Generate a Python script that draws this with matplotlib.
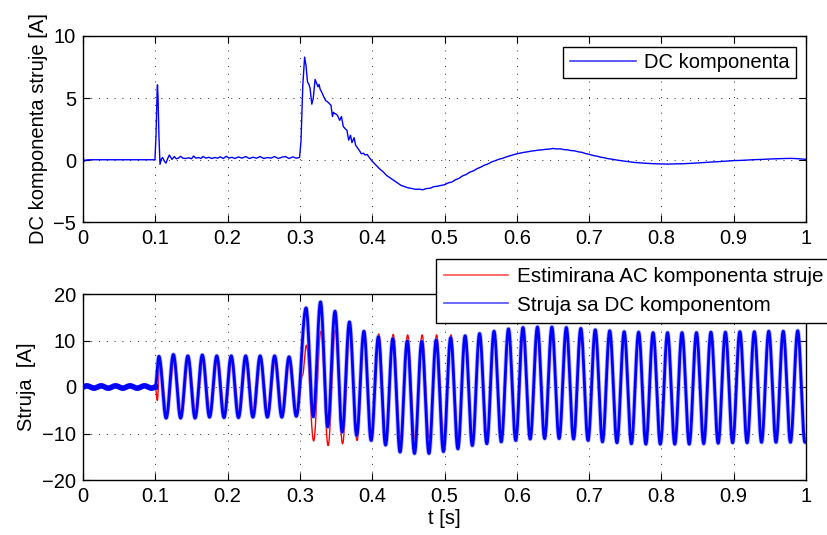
import numpy as np
import matplotlib
matplotlib.use("Agg")
import matplotlib.pyplot as plt
from matplotlib.lines import Line2D
from matplotlib.ticker import FuncFormatter

plt.rcParams['font.family'] = ['Liberation Sans', 'DejaVu Sans']
FS = 14.5
plt.rcParams['font.size'] = FS

# ---------------- DATA ----------------
# Top panel: estimated DC component [A] at times [s]
dc_t = [0.000, 0.002, 0.004, 0.010, 0.050, 0.0995, 0.1010, 0.1025, 0.1030, 0.1038,
        0.1050, 0.1065, 0.1085, 0.1102, 0.1125, 0.1148, 0.1170, 0.1194, 0.1215, 0.1231,
        0.1263, 0.129, 0.132, 0.135, 0.138, 0.142, 0.146, 0.150, 0.153, 0.156,
        0.160, 0.163, 0.166, 0.170, 0.174, 0.178, 0.182, 0.186, 0.190, 0.194,
        0.198, 0.202, 0.206, 0.210, 0.215, 0.220, 0.225, 0.230, 0.235, 0.240,
        0.245, 0.250, 0.255, 0.260, 0.265, 0.270, 0.275, 0.280, 0.285, 0.290,
        0.295, 0.2995, 0.3015, 0.3040, 0.3065, 0.3085, 0.3105, 0.3125, 0.3140, 0.3165,
        0.3185, 0.3210, 0.3230, 0.3250, 0.3265, 0.3280, 0.3300, 0.3330, 0.3355, 0.3380,
        0.3400, 0.3430, 0.3450, 0.3465, 0.3480, 0.3500, 0.3520, 0.3550, 0.3575, 0.3600,
        0.3630, 0.3650, 0.3675, 0.3700, 0.3720, 0.3750, 0.3770, 0.3800, 0.3830, 0.3850,
        0.3880, 0.3900, 0.3930, 0.3960, 0.400, 0.405, 0.410, 0.415, 0.420, 0.425,
        0.430, 0.435, 0.440, 0.445, 0.450, 0.455, 0.460, 0.465, 0.470, 0.475,
        0.480, 0.485, 0.490, 0.495, 0.500, 0.505, 0.510, 0.515, 0.520, 0.525,
        0.530, 0.535, 0.540, 0.545, 0.550, 0.555, 0.560, 0.565, 0.570, 0.575,
        0.580, 0.585, 0.590, 0.595, 0.600, 0.605, 0.610, 0.615, 0.620, 0.625,
        0.630, 0.635, 0.640, 0.645, 0.650, 0.655, 0.660, 0.665, 0.670, 0.675,
        0.680, 0.685, 0.690, 0.695, 0.700, 0.705, 0.710, 0.715, 0.720, 0.725,
        0.730, 0.740, 0.750, 0.760, 0.770, 0.780, 0.790, 0.800, 0.810, 0.820,
        0.830, 0.840, 0.850, 0.860, 0.870, 0.880, 0.890, 0.900, 0.910, 0.920,
        0.930, 0.940, 0.950, 0.960, 0.970, 0.980, 0.990, 1.000]
dc_v = [0.25, -0.10, 0.00, 0.02, 0.02, 0.02, 2.00, 5.50, 6.06, 5.00,
        2.00, -0.35, 0.10, 0.20, -0.10, -0.25, 0.10, 0.40, 0.20, 0.05,
        0.28, 0.10, 0.15, 0.30, 0.15, 0.12, 0.18, 0.10, 0.32, 0.15,
        0.20, 0.12, 0.28, 0.15, 0.22, 0.12, 0.20, 0.15, 0.25, 0.12,
        0.30, 0.15, 0.22, 0.12, 0.25, 0.15, 0.28, 0.12, 0.22, 0.15,
        0.28, 0.12, 0.20, 0.15, 0.28, 0.12, 0.22, 0.28, 0.12, 0.25,
        0.15, 0.20, 1.50, 6.00, 8.30, 7.60, 6.30, 6.10, 5.80, 4.50,
        5.00, 6.50, 6.20, 5.90, 6.10, 5.70, 5.50, 5.10, 4.80, 4.70,
        4.60, 4.40, 3.50, 3.85, 3.75, 3.70, 3.60, 3.20, 3.50, 2.70,
        2.50, 2.40, 1.60, 2.00, 1.40, 1.80, 1.20, 0.95, 0.70, 0.50,
        0.55, 0.40, 0.45, 0.20, -0.10, -0.40, -0.70, -0.95, -1.25, -1.45,
        -1.65, -1.85, -2.05, -2.15, -2.25, -2.30, -2.37, -2.35, -2.40, -2.30,
        -2.28, -2.15, -2.12, -2.05, -2.00, -1.85, -1.78, -1.60, -1.48, -1.28,
        -1.17, -0.98, -0.88, -0.70, -0.58, -0.42, -0.32, -0.16, -0.06, 0.06,
        0.13, 0.24, 0.33, 0.42, 0.50, 0.56, 0.62, 0.66, 0.72, 0.75,
        0.80, 0.82, 0.86, 0.88, 0.93, 0.89, 0.90, 0.84, 0.82, 0.76,
        0.74, 0.66, 0.62, 0.52, 0.46, 0.37, 0.32, 0.24, 0.19, 0.12,
        0.08, -0.02, -0.10, -0.18, -0.23, -0.27, -0.30, -0.32, -0.33, -0.31,
        -0.30, -0.27, -0.24, -0.20, -0.16, -0.13, -0.09, -0.05, -0.03, 0.00,
        0.03, 0.05, 0.08, 0.10, 0.12, 0.13, 0.10, 0.05]

# Bottom panel: half-cycle extrema of the currents [A] (50 Hz)
blue_pre_peaks = [0.25, 0.25, 0.25, 0.25, 0.25]
blue_pre_troughs = [-0.25, -0.25, -0.25, -0.25, -0.25]
blue_mid_peaks = [6.6, 7.0, 6.7, 6.9, 6.7, 6.7, 6.7, 6.7, 6.7, 6.5]
blue_mid_troughs = [-6.7, -6.7, -6.7, -6.5, -6.6, -6.6, -6.5, -6.5, -6.5, -6.3]
blue_post_peaks = [17.0, 18.3, 16.3, 14.0, 12.0, 10.8, 10.4, 9.9, 9.8, 10.1,
                   10.6, 11.0, 11.5, 12.0, 12.5, 12.8, 12.9, 12.9, 12.8, 12.6,
                   12.3, 12.1, 11.9, 11.8, 11.7, 11.7, 11.7, 11.7, 11.8, 11.8,
                   11.9, 11.9, 12.0, 12.0, 12.1]
blue_post_troughs = [-6.4, -8.6, -9.7, -10.4, -11.5, -12.5, -14.0, -14.3, -14.3, -13.9,
                     -13.3, -12.6, -12.2, -11.8, -11.5, -11.2, -11.1, -11.1, -11.2, -11.5,
                     -11.8, -12.0, -12.2, -12.3, -12.3, -12.3, -12.3, -12.2, -12.1, -12.0,
                     -12.0, -11.9, -11.9, -11.9, -11.9]

red_start_dip = -2.9
red_mid_peaks = [5.8, 6.0, 6.0, 6.0, 6.0, 6.0, 6.0, 6.0, 6.0, 6.0]
red_mid_troughs = [-6.1, -6.1, -6.1, -6.0, -6.0, -6.0, -6.0, -6.0, -6.0, -6.0]
red_fault_kink = 2.5
red_post_peaks = [9.0, 12.0, 12.2, 11.9, 11.7, 11.4, 11.3, 11.2, 11.2, 11.2,
                  11.2, 11.2, 11.2, 11.2, 11.2, 11.2, 11.2, 11.2, 11.2, 11.2,
                  11.2, 11.2, 11.2, 11.2, 11.2, 11.2, 11.2, 11.2, 11.2, 11.2,
                  11.2, 11.2, 11.2, 11.2, 11.2]
red_post_troughs = [-11.6, -12.6, -12.2, -11.5, -11.1, -11.0, -11.0, -11.0, -11.0, -11.0,
                    -11.0, -11.0, -11.0, -11.0, -11.0, -11.0, -11.0, -11.0, -11.0, -11.0,
                    -11.0, -11.0, -11.0, -11.0, -11.0, -11.0, -11.0, -11.0, -11.0, -11.0,
                    -11.0, -11.0, -11.0, -11.0, -11.0]

x_ticks = [0, 0.1, 0.2, 0.3, 0.4, 0.5, 0.6, 0.7, 0.8, 0.9, 1.0]
top_yticks = [-5, 0, 5, 10]
bot_yticks = [-20, -10, 0, 10, 20]

# ---------------- waveform construction ----------------
PERIOD = 0.02  # 50 Hz


def interleave(t_peak0, peaks, troughs):
    tp = t_peak0 + PERIOD * np.arange(len(peaks))
    tt = tp + PERIOD / 2
    t = np.empty(2 * len(peaks))
    v = np.empty(2 * len(peaks))
    t[0::2], t[1::2] = tp, tt
    v[0::2], v[1::2] = peaks, troughs
    return list(t), list(v)


def half_wave(t, tx, vx):
    tx = np.asarray(tx)
    vx = np.asarray(vx)
    i = np.clip(np.searchsorted(tx, t, side='right') - 1, 0, len(tx) - 2)
    ph = np.clip((t - tx[i]) / (tx[i + 1] - tx[i]), 0, 1)
    return vx[i] + (vx[i + 1] - vx[i]) * (1 - np.cos(np.pi * ph)) / 2


t = np.linspace(0, 1, 20001)

bt, bv = [0.0], [0.0]
a, b = interleave(0.005, blue_pre_peaks, blue_pre_troughs); bt += a; bv += b
bt += [0.1]; bv += [0.0]
a, b = interleave(0.105, blue_mid_peaks, blue_mid_troughs); bt += a; bv += b
a, b = interleave(0.3085, blue_post_peaks, blue_post_troughs); bt += a; bv += b
bt += [1.0]; bv += [bv[-1]]
blue = half_wave(t, bt, bv)

rt, rv = [0.0, 0.1, 0.1028], [0.0, 0.0, red_start_dip]
a, b = interleave(0.1062, red_mid_peaks, red_mid_troughs); rt += a; rv += b
rt += [0.3035]; rv += [red_fault_kink]
a, b = interleave(0.3090, red_post_peaks, red_post_troughs); rt += a; rv += b
rt += [1.0]; rv += [rv[-1]]
red = half_wave(t, rt, rv)

pre = t <= 0.1

# ---------------- figure ----------------
W, H = 827, 535
fig = plt.figure(figsize=(W / 100, H / 100), dpi=100)
ax1 = fig.add_axes([83 / W, 1 - 222 / H, 723 / W, 186 / H])
ax2 = fig.add_axes([83 / W, 1 - 480 / H, 723 / W, 186 / H])

fmt = FuncFormatter(lambda v, p: ('%g' % round(v, 6)).replace('-', '\u2212'))

for ax in (ax1, ax2):
    ax.set_xlim(0, 1)
    ax.set_xticks(x_ticks)
    ax.xaxis.set_major_formatter(fmt)
    ax.yaxis.set_major_formatter(fmt)
    ax.tick_params(direction='in', top=True, right=True, length=5, width=0.8,
                   labelsize=FS, pad=5, colors='black')
    ax.grid(True, color='#303030', linestyle=(0, (1, 7)), linewidth=0.7)
    for s in ax.spines.values():
        s.set_linewidth(1.0)
        s.set_color('black')

# top panel
ax1.plot(dc_t, dc_v, color='#0000ff', lw=1.0)
ax1.set_ylim(-5, 10)
ax1.set_yticks(top_yticks)
ax1.set_ylabel('DC komponenta struje [A]', fontsize=FS, labelpad=4)
leg1 = ax1.legend([Line2D([], [], color='#4040ff', lw=1.2)], ['DC komponenta'],
                  loc='upper right', bbox_to_anchor=(795.7 / W, 1 - 46.7 / H),
                  bbox_transform=fig.transFigure, borderaxespad=0, fontsize=FS,
                  fancybox=False, framealpha=1, edgecolor='black',
                  handlelength=3.3, handletextpad=0.4, borderpad=0.3)
leg1.get_frame().set_linewidth(1.0)

# bottom panel
ax2.plot(t, red, color='#ff0000', lw=1.0, zorder=2)
ax2.plot(t, blue, color='#8080ff', lw=3.2, alpha=0.55, zorder=3)
ax2.plot(t, blue, color='#0000ff', lw=2.0, zorder=4)
ax2.plot(t[pre], blue[pre], color='#0000ff', lw=4.0, zorder=4)
ax2.set_ylim(-20, 20)
ax2.set_yticks(bot_yticks)
ax2.set_ylabel('Struja  [A]', fontsize=FS, labelpad=4)
ax2.set_xlabel('t [s]', fontsize=FS, labelpad=2)
leg2 = ax2.legend([Line2D([], [], color='#ff5050', lw=1.2),
                   Line2D([], [], color='#5050ff', lw=1.2)],
                  ['Estimirana AC komponenta struje', 'Struja sa DC komponentom'],
                  loc='upper left', bbox_to_anchor=(435.7 / W, 1 - 259 / H),
                  bbox_transform=fig.transFigure, borderaxespad=0, fontsize=14.9,
                  fancybox=False, framealpha=1, edgecolor='black',
                  handlelength=3.1, handletextpad=0.45, borderpad=0.4,
                  labelspacing=0.45)
leg2.get_frame().set_linewidth(1.0)
leg2.set_zorder(10)

fig.savefig('out.png', dpi=100)
